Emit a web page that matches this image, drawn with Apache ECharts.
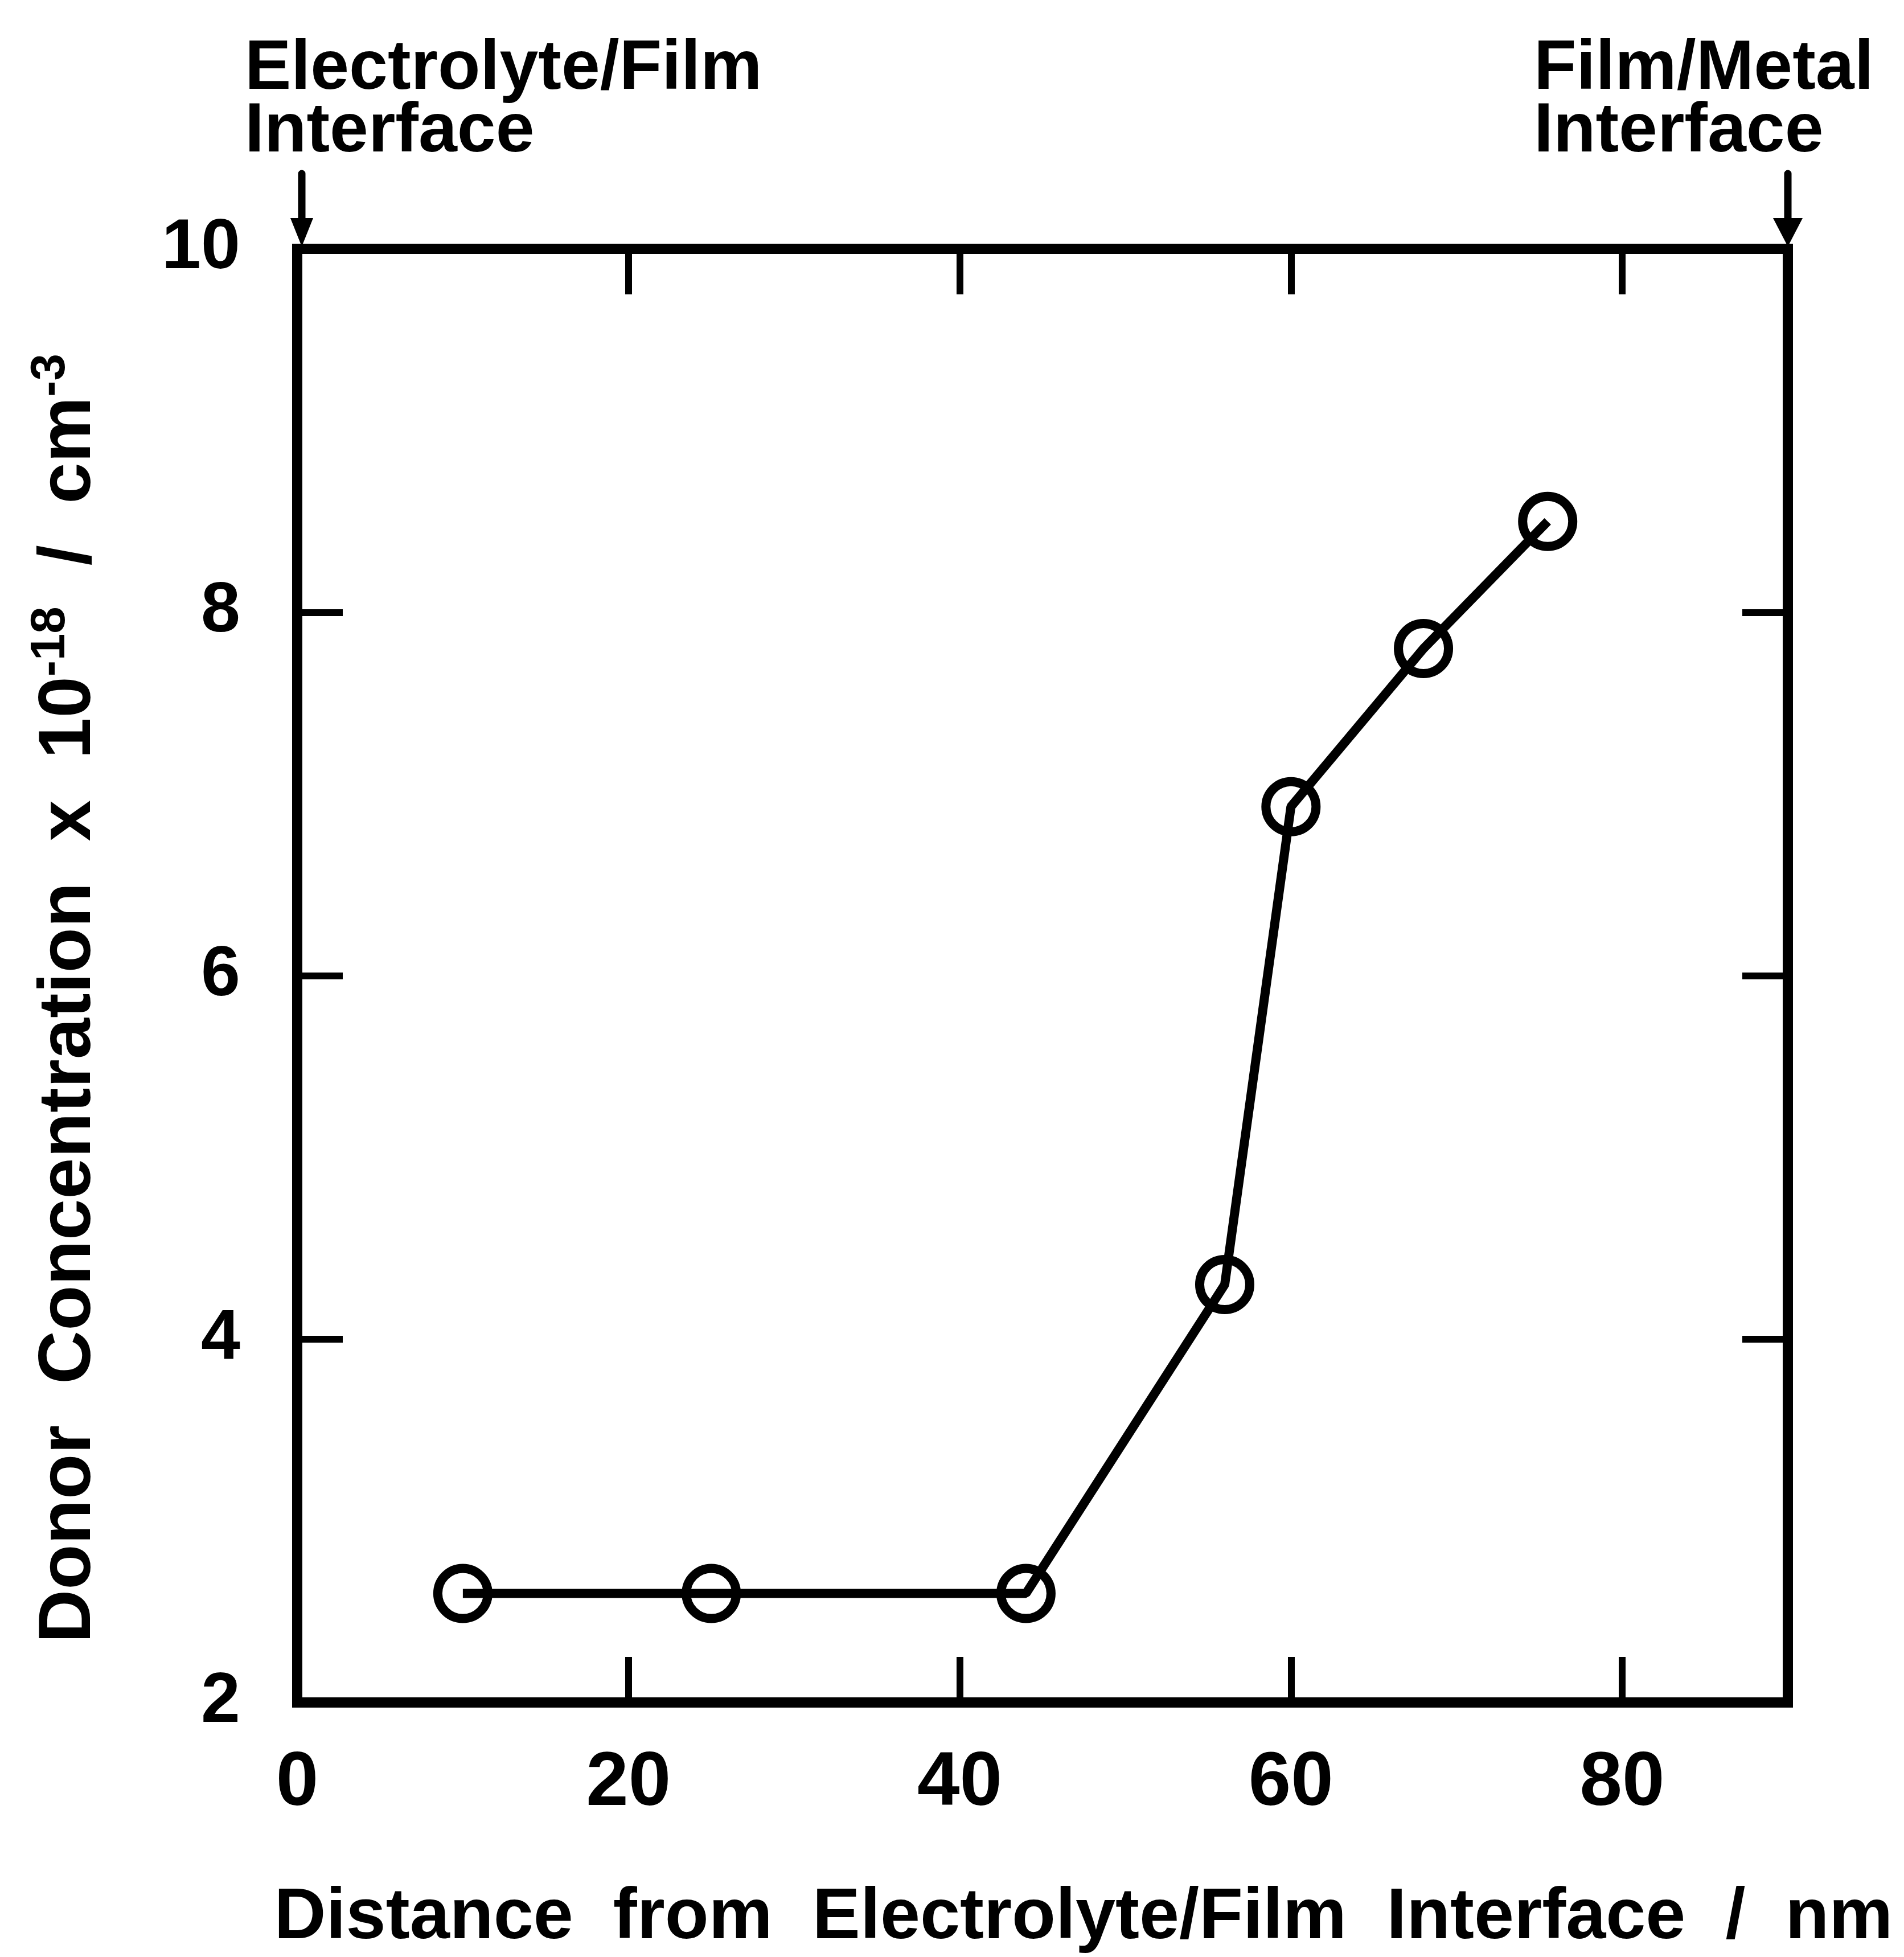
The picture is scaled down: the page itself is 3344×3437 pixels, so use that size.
<!DOCTYPE html>
<html>
<head>
<meta charset="utf-8">
<script src="https://cdn.jsdelivr.net/npm/echarts@6/dist/echarts.min.js"></script>
<style>
  html, body { margin: 0; padding: 0; background: #fff; }
  #chart { width: 3344px; height: 3437px; }
</style>
</head>
<body>
<div id="chart"></div>
<script>
// ---- data ----
const distanceNm = [10, 25, 44, 56, 60, 68, 75.5];
const donorConc = [2.6, 2.6, 2.6, 4.3, 6.93, 7.8, 8.5];

// ---- axis scales / tick labels ----
const X_MIN = 0, X_MAX = 90, X_STEP = 20;
const Y_MIN = 2, Y_MAX = 10, Y_STEP = 2;
const xTickLabels = ['0', '20', '40', '60', '80'];
const yTickLabels = ['2', '4', '6', '8', '10'];

// ---- texts ----
const xAxisTitle = 'Distance  from  Electrolyte/Film  Interface  /  nm';
const yAxisTitle = '{m|Donor  Concentration  x  10}{s|-18}{m|  /  cm}{s|-3}';
const interfaceNames = ['Electrolyte/Film\nInterface', 'Film/Metal\nInterface'];
const interfacePositions = [0, 90];

const FONT = '"Liberation Sans", Arial, sans-serif';
const chart = echarts.init(document.getElementById('chart'));

const axisLineStyle = { color: '#000', width: 18, cap: 'square' };
const tickStyle = { color: '#000', width: 12 };

const option = {
  animation: false,
  backgroundColor: '#fff',
  grid: { left: 522, top: 437, width: 2618, height: 2565, containLabel: false },
  xAxis: [
    {
      type: 'value', position: 'bottom', min: X_MIN, max: X_MAX, interval: X_STEP,
      axisLine: { show: true, onZero: false, lineStyle: axisLineStyle },
      axisTick: { show: true, inside: true, length: 80, lineStyle: tickStyle },
      splitLine: { show: false },
      axisLabel: {
        show: true, margin: 76, color: '#000', fontSize: 134, fontWeight: 'bold', fontFamily: FONT,
        formatter: v => { const i = Math.round((v - X_MIN) / X_STEP); return (v % X_STEP === 0 && xTickLabels[i] !== undefined) ? xTickLabels[i] : ''; }
      },
      name: xAxisTitle, nameLocation: 'middle', nameGap: 316,
      nameTextStyle: { color: '#000', fontSize: 126, fontWeight: 'bold', fontFamily: FONT, padding: [0, 0, 0, 144] }
    },
    {
      type: 'value', position: 'top', min: X_MIN, max: X_MAX, interval: X_STEP,
      axisLine: { show: true, onZero: false, lineStyle: axisLineStyle },
      axisTick: { show: true, inside: true, length: 80, lineStyle: tickStyle },
      splitLine: { show: false },
      axisLabel: { show: false }
    }
  ],
  yAxis: [
    {
      type: 'value', position: 'left', min: Y_MIN, max: Y_MAX, interval: Y_STEP,
      axisLine: { show: true, onZero: false, lineStyle: axisLineStyle },
      axisTick: { show: true, inside: true, length: 80, lineStyle: tickStyle },
      splitLine: { show: false },
      axisLabel: {
        show: true, margin: 100, color: '#000', fontSize: 124, fontWeight: 'bold', fontFamily: FONT,
        formatter: v => { const i = Math.round((v - Y_MIN) / Y_STEP); return yTickLabels[i] !== undefined ? yTickLabels[i] : ''; }
      },
      name: yAxisTitle, nameLocation: 'middle', nameGap: 325, nameRotate: 90,
      nameTextStyle: {
        color: '#000', fontFamily: FONT, fontWeight: 'bold', padding: [0, 80, 0, 0],
        rich: {
          m: { fontSize: 130, fontWeight: 'bold', fontFamily: FONT, color: '#000', lineHeight: 150 },
          s: { fontSize: 85, fontWeight: 'bold', fontFamily: FONT, color: '#000', lineHeight: 56, verticalAlign: 'top' }
        }
      }
    },
    {
      type: 'value', position: 'right', min: Y_MIN, max: Y_MAX, interval: Y_STEP,
      axisLine: { show: true, onZero: false, lineStyle: axisLineStyle },
      axisTick: { show: true, inside: true, length: 80, lineStyle: tickStyle },
      splitLine: { show: false },
      axisLabel: { show: false }
    }
  ],
  series: [
    {
      type: 'line',
      xAxisIndex: 0, yAxisIndex: 0,
      data: distanceNm.map((x, i) => [x, donorConc[i]]),
      symbol: 'circle',
      symbolSize: 88,
      showSymbol: true,
      itemStyle: { color: 'rgba(0,0,0,0)', borderColor: '#000', borderWidth: 16 },
      lineStyle: { color: '#000', width: 16 },
      emphasis: { disabled: true },
      z: 3
    }
  ]
};

chart.setOption(option);

// ---- interface arrows + labels, positioned through the axes ----
const graphics = [];
interfacePositions.forEach((xv, k) => {
  const p = chart.convertToPixel({ gridIndex: 0 }, [xv, Y_MAX]);
  const ax = p[0] + (k === 0 ? 8 : 0);
  const ay = p[1];
  graphics.push({
    type: 'line', z: 10,
    shape: { x1: ax, y1: ay - 132, x2: ax, y2: ay - 40 },
    style: { stroke: '#000', lineWidth: 13, lineCap: 'round' }
  });
  const hw = k === 0 ? 20 : 26;
  graphics.push({
    type: 'polygon', z: 10,
    shape: { points: [[ax - hw, ay - 54], [ax + hw, ay - 54], [ax, ay - 4]] },
    style: { fill: '#000' }
  });
  graphics.push({
    type: 'text', z: 10,
    x: k === 0 ? p[0] - 92 : p[0] - 446,
    y: ay - 370,
    style: {
      text: interfaceNames[k],
      fill: '#000',
      font: 'bold 122px ' + FONT,
      lineHeight: 110,
      align: 'left',
      verticalAlign: 'top'
    }
  });
});
chart.setOption({ graphic: graphics });
</script>
</body>
</html>
